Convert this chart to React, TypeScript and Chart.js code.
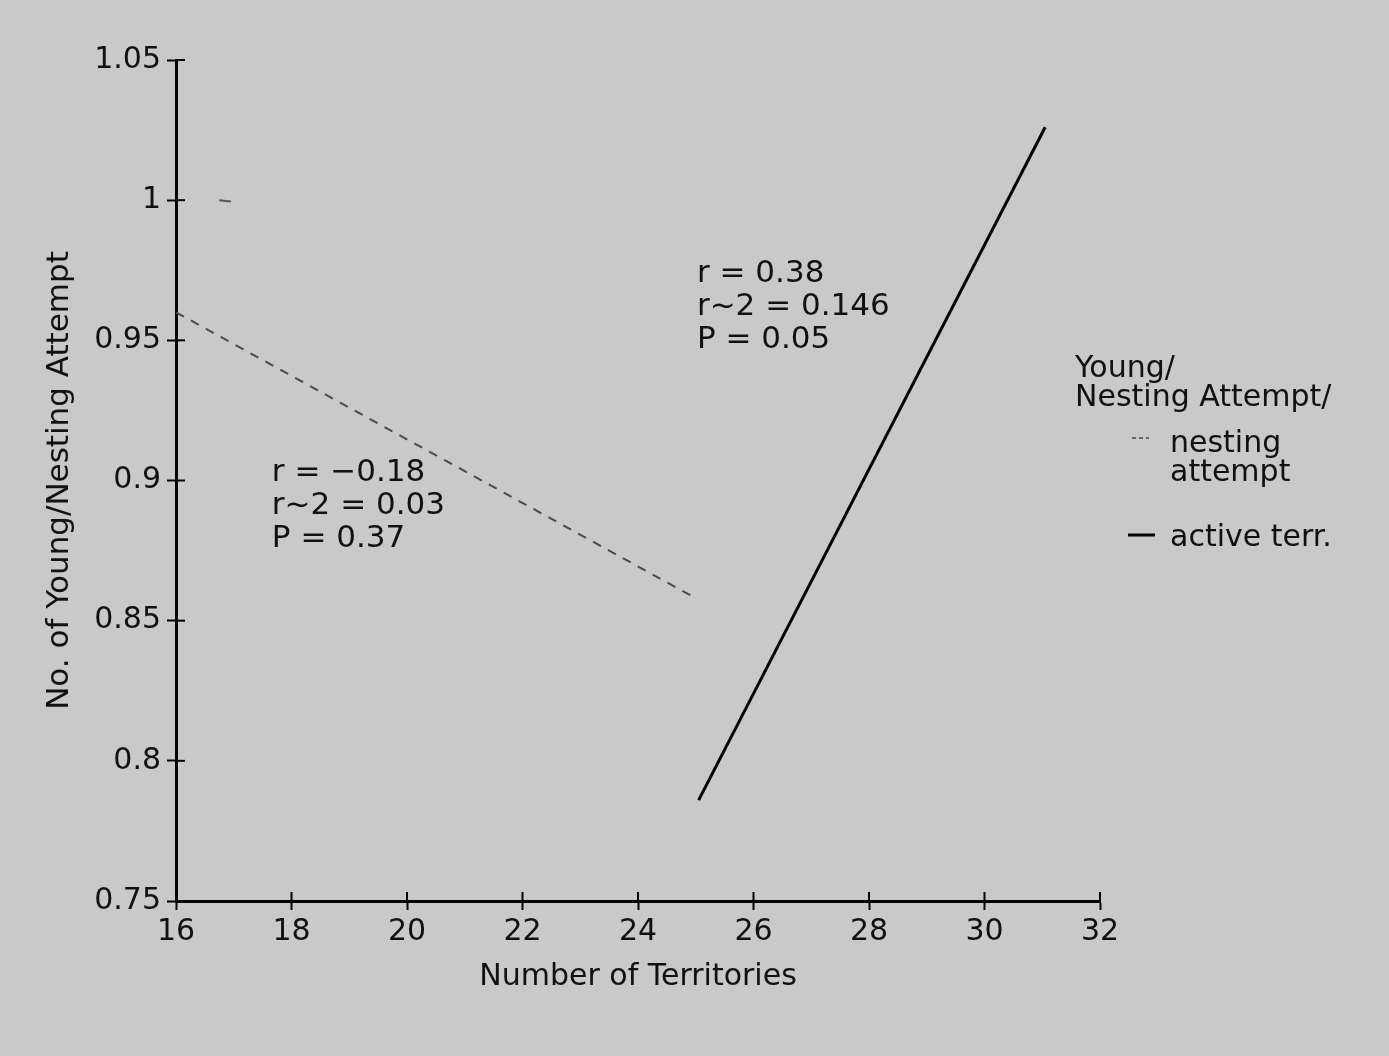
import React, { useEffect, useRef } from "react";
import { Chart, registerables } from "chart.js";

Chart.register(...registerables);

// ---- data ----
const nestingX = [16, 25];
const nestingY = [0.96, 0.858];
const activeX = [25.05, 31.05];
const activeY = [0.786, 1.026];
const strayX = [16.75, 16.95];
const strayY = [1.0, 0.9995];

const xTickLabels = ["16", "18", "20", "22", "24", "26", "28", "30", "32"];
const yTickLabels = ["0.75", "0.8", "0.85", "0.9", "0.95", "1", "1.05"];

const leftStats = ["r = −0.18", "r~2 = 0.03", "P = 0.37"];
const rightStats = ["r = 0.38", "r~2 = 0.146", "P = 0.05"];
const legendTitle = ["Young/", "Nesting Attempt/"];
const legendNesting = ["nesting", "attempt"];
const legendActive = ["active terr."];

const FONT = "'DejaVu Sans', sans-serif";
const INK = "#111";
const BG = "#c9c9c9";

const pts = (xs: number[], ys: number[]) => xs.map((x, i) => ({ x, y: ys[i] }));

const decorPlugin = {
  id: "decor",
  beforeDraw(chart: any) {
    const { ctx, width, height } = chart;
    ctx.save();
    ctx.fillStyle = BG;
    ctx.fillRect(0, 0, width, height);
    ctx.restore();
  },
  afterDraw(chart: any) {
    const { ctx } = chart;
    const xs = chart.scales.x;
    const ys = chart.scales.y;
    ctx.save();
    // inward halves of the crossing ticks
    ctx.strokeStyle = "#000";
    ctx.lineWidth = 2;
    xs.ticks.forEach((t: any) => {
      const px = xs.getPixelForValue(t.value);
      ctx.beginPath();
      ctx.moveTo(px, ys.bottom);
      ctx.lineTo(px, ys.bottom - 9);
      ctx.stroke();
    });
    ys.ticks.forEach((t: any) => {
      const py = ys.getPixelForValue(t.value);
      ctx.beginPath();
      ctx.moveTo(xs.left, py);
      ctx.lineTo(xs.left + 9, py);
      ctx.stroke();
    });

    // statistics annotations
    ctx.fillStyle = INK;
    ctx.font = `31px ${FONT}`;
    ctx.textBaseline = "alphabetic";
    ctx.textAlign = "left";
    const lx = xs.getPixelForValue(17.66);
    const ly = ys.getPixelForValue(0.9);
    leftStats.forEach((s, i) => ctx.fillText(s, lx, ly + i * 33));
    const rx = xs.getPixelForValue(25.02);
    const ry = ys.getPixelForValue(0.9708);
    rightStats.forEach((s, i) => ctx.fillText(s, rx, ry + i * 33));

    // legend
    ctx.font = `30px ${FONT}`;
    const L = 1075;
    ctx.fillText(legendTitle[0], L, 377);
    ctx.fillText(legendTitle[1], L, 406);
    ctx.fillText(legendNesting[0], 1170, 452);
    ctx.fillText(legendNesting[1], 1170, 481);
    ctx.fillText(legendActive[0], 1170, 546);
    ctx.strokeStyle = "#666";
    ctx.lineWidth = 2;
    ctx.setLineDash([4, 3]);
    ctx.beginPath();
    ctx.moveTo(1132, 438);
    ctx.lineTo(1149, 438);
    ctx.stroke();
    ctx.setLineDash([]);
    ctx.strokeStyle = "#000";
    ctx.lineWidth = 3;
    ctx.beginPath();
    ctx.moveTo(1128, 535);
    ctx.lineTo(1155, 535);
    ctx.stroke();
    ctx.restore();
  },
};

export default function App() {
  const ref = useRef<HTMLCanvasElement>(null);
  useEffect(() => {
    if (!ref.current) return;
    const chart = new Chart(ref.current, {
      type: "scatter",
      data: {
        datasets: [
          {
            label: "nesting attempt",
            data: pts(nestingX, nestingY),
            showLine: true,
            borderColor: "#4a4a4a",
            borderWidth: 2,
            borderDash: [9, 8],
            pointRadius: 0,
          },
          {
            label: "active terr.",
            data: pts(activeX, activeY),
            showLine: true,
            borderColor: "#000",
            borderWidth: 3,
            pointRadius: 0,
          },
          {
            label: "mark",
            data: pts(strayX, strayY),
            showLine: true,
            borderColor: "#555",
            borderWidth: 2,
            pointRadius: 0,
          },
        ],
      },
      options: {
        responsive: false,
        animation: false,
        layout: { padding: { left: 0, top: 60, right: 289, bottom: 0 } },
        plugins: { legend: { display: false }, tooltip: { enabled: false } },
        scales: {
          x: {
            type: "linear",
            min: 16,
            max: 32,
            afterFit: (s: any) => {
              s.height = 155;
            },
            border: { display: true, color: "#000", width: 3 },
            grid: { drawOnChartArea: false, drawTicks: true, tickLength: 9, tickWidth: 2, tickColor: "#000" },
            ticks: {
              stepSize: 2,
              color: INK,
              padding: 4,
              font: { family: FONT, size: 30 },
              callback: (_v: any, i: number) => xTickLabels[i],
            },
            title: {
              display: true,
              text: "Number of Territories",
              color: INK,
              font: { family: FONT, size: 30 },
              padding: { top: 0, bottom: 61 },
            },
          },
          y: {
            type: "linear",
            min: 0.75,
            max: 1.05,
            afterFit: (s: any) => {
              s.width = 176;
            },
            border: { display: true, color: "#000", width: 3 },
            grid: { drawOnChartArea: false, drawTicks: true, tickLength: 9, tickWidth: 2, tickColor: "#000" },
            ticks: {
              stepSize: 0.05,
              color: INK,
              padding: 6,
              font: { family: FONT, size: 30 },
              callback: (_v: any, i: number) => yTickLabels[i],
            },
            title: {
              display: true,
              text: "No. of Young/Nesting Attempt",
              color: INK,
              font: { family: FONT, size: 31 },
              padding: { top: 41, bottom: 0 },
            },
          },
        },
      },
      plugins: [decorPlugin],
    } as any);
    return () => chart.destroy();
  }, []);
  return (
    <div style={{ position: "absolute", left: 0, top: 0, width: 1389, height: 1056 }}>
      <canvas ref={ref} width={1389} height={1056} style={{ display: "block" }} />
    </div>
  );
}
